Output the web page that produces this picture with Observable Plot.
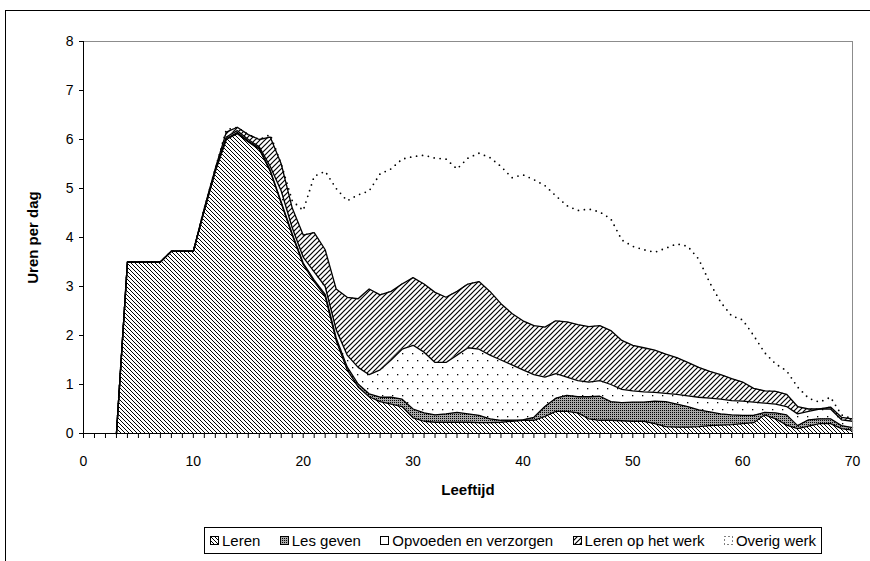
<!DOCTYPE html>
<html>
<head>
<meta charset="utf-8">
<script src="https://cdn.jsdelivr.net/npm/d3@7"></script>
<script src="https://cdn.jsdelivr.net/npm/@observablehq/plot@0.6"></script>
<style>
  html, body { margin: 0; padding: 0; background: #fff; }
  #wrap { position: relative; width: 870px; height: 561px; overflow: hidden; background: #fff;
          font-family: "Liberation Sans", Arial, sans-serif; }
  #frame { position: absolute; left: 5px; top: 10px; width: 900px; height: 600px;
           border-left: 1.5px solid #000; border-top: 1.5px solid #000; box-sizing: border-box; }
  #chart { position: absolute; left: 0; top: 0; }
  #legend { position: absolute; left: 204px; top: 527px; width: 618px; height: 27px; box-sizing: border-box;
            border: 1px solid #000; background: #fff; display: flex; align-items: center; justify-content: space-between;
            padding: 0 5px; font-size: 15px; color: #000; }
  #legend .item { display: flex; align-items: center; white-space: nowrap; }
  #legend svg { margin-right: 2px; }
</style>
</head>
<body>
<svg width="0" height="0" style="position:absolute">
  <defs>
    <pattern id="pLeren" patternUnits="userSpaceOnUse" width="4" height="4">
      <rect width="4" height="4" fill="#fff"/>
      <path d="M-1,-1 L5,5 M-1,3 L1,5 M3,-1 L5,1" stroke="#000" stroke-width="1"/>
    </pattern>
    <pattern id="pLes" patternUnits="userSpaceOnUse" width="2" height="2">
      <rect width="2" height="2" fill="#a8a8a8"/>
      <rect width="1" height="1" fill="#000"/>
    </pattern>
    <pattern id="pOpv" patternUnits="userSpaceOnUse" width="10" height="14">
      <rect width="10" height="14" fill="#fff"/>
      <rect x="2" y="3" width="1.3" height="1.3" fill="#000"/>
      <rect x="7" y="10" width="1.3" height="1.3" fill="#000"/>
    </pattern>
    <pattern id="pWerk" patternUnits="userSpaceOnUse" width="5" height="5">
      <rect width="5" height="5" fill="#fff"/>
      <path d="M-1,6 L6,-1 M-1,1 L1,-1 M4,6 L6,4" stroke="#000" stroke-width="1.2"/>
    </pattern>
  </defs>
</svg>
<div id="wrap">
  <div id="frame"></div>
  <div id="chart"></div>
  <div id="legend"></div>
</div>
<script>
// Categories
const ages = d3.range(0, 71);
const seriesNames = ["Leren", "Les geven", "Opvoeden en verzorgen", "Leren op het werk", "Overig werk"];
const yTicks = [0, 1, 2, 3, 4, 5, 6, 7, 8];
const xTickLabels = [0, 10, 20, 30, 40, 50, 60, 70];

// Series values (hours per day), ages 0..70
const leren = [0,0,0,0,3.5,3.5,3.5,3.5,3.72,3.72,3.72,4.55,5.35,6.0,6.12,5.95,5.8,5.35,4.7,4.05,3.45,3.1,2.8,1.9,1.3,0.95,0.75,0.65,0.6,0.55,0.32,0.25,0.23,0.23,0.23,0.23,0.22,0.22,0.23,0.25,0.27,0.27,0.35,0.45,0.45,0.42,0.3,0.27,0.27,0.26,0.25,0.25,0.2,0.14,0.13,0.13,0.14,0.16,0.17,0.18,0.2,0.22,0.38,0.3,0.17,0.1,0.15,0.2,0.2,0.1,0.07];
const lesGeven = [0,0,0,0,0,0,0,0,0,0,0,0.01,0.01,0.02,0.02,0.02,0.02,0.02,0.02,0.02,0.03,0.03,0.04,0.05,0.06,0.06,0.06,0.09,0.14,0.15,0.18,0.17,0.15,0.17,0.2,0.17,0.15,0.08,0.04,0.02,0.01,0.06,0.2,0.27,0.33,0.33,0.45,0.49,0.38,0.37,0.39,0.39,0.46,0.51,0.47,0.42,0.34,0.28,0.23,0.2,0.17,0.15,0.05,0.12,0.21,0.06,0.13,0.1,0.1,0.06,0.05];
const opvoeden = [0,0,0,0,0,0,0,0,0,0,0,0.02,0.02,0.03,0.04,0.03,0.03,0.08,0.23,0.13,0.12,0.17,0.16,0.17,0.24,0.34,0.39,0.56,0.76,1.02,1.3,1.24,1.07,1.05,1.17,1.35,1.35,1.3,1.23,1.13,1.02,0.87,0.6,0.5,0.37,0.33,0.3,0.32,0.35,0.27,0.23,0.21,0.18,0.17,0.2,0.22,0.26,0.28,0.3,0.29,0.29,0.27,0.19,0.18,0.17,0.24,0.17,0.2,0.2,0.12,0.13];
const lerenWerk = [0,0,0,0,0,0,0,0,0,0,0,0.02,0.03,0.1,0.07,0.1,0.15,0.6,0.55,0.4,0.45,0.8,0.75,0.83,1.18,1.4,1.75,1.53,1.4,1.33,1.38,1.39,1.43,1.33,1.3,1.3,1.38,1.3,1.15,1.05,1.0,1.0,1.02,1.08,1.13,1.14,1.13,1.12,1.1,1.0,0.93,0.9,0.86,0.8,0.75,0.68,0.61,0.55,0.5,0.45,0.39,0.28,0.25,0.26,0.25,0.15,0.05,0,0.04,0.05,0.05];
const overig = [0,0,0,0,0,0,0,0,0,0,0,0,0,0.05,0,0,0,0.05,0,0.15,0.5,1.15,1.6,2.05,1.97,2.12,2.0,2.47,2.5,2.55,2.47,2.63,2.74,2.82,2.5,2.57,2.62,2.73,2.8,2.77,2.98,2.98,2.89,2.55,2.37,2.33,2.4,2.32,2.28,2.05,2.02,2.0,2.0,2.16,2.32,2.37,2.21,1.81,1.48,1.28,1.27,1.08,0.78,0.56,0.48,0.4,0.22,0.14,0.2,0.05,0];

const seriesValues = [leren, lesGeven, opvoeden, lerenWerk, overig];
const patterns = ["url(#pLeren)", "url(#pLes)", "url(#pOpv)", "url(#pWerk)"];

const data = seriesNames.flatMap((name, i) => ages.map((age, j) => ({age, series: name, value: seriesValues[i][j]})));
const filled = seriesNames.slice(0, 4);
const data4 = data.filter(d => filled.includes(d.series));
// outlines only where the areas exist (from age 3 on), so the x axis stays thin
const outline4 = data4.filter(d => d.age >= 3);
const outlineAll = data.filter(d => d.age >= 3);

const plot = Plot.plot({
  width: 870,
  height: 515,
  marginLeft: 83,
  marginRight: 18,
  marginTop: 41,
  marginBottom: 82,
  style: {fontFamily: '"Liberation Sans", Arial, sans-serif', fontSize: "14px", color: "#000", background: "transparent", overflow: "visible"},
  x: {domain: [0, 70]},
  y: {domain: [0, 8]},
  color: {domain: filled, range: patterns},
  marks: [
    Plot.areaY(data4, {x: "age", y: "value", z: "series", fill: "series", order: filled, curve: "linear"}),
    Plot.lineY(outline4, Plot.stackY2({x: "age", y: "value", z: "series", order: filled, stroke: "#000", strokeWidth: 1.3})),
    Plot.lineY(outlineAll, Plot.groupX({y: "sum"}, {x: "age", y: "value", stroke: "#000", strokeWidth: 1.8, strokeLinecap: "round", strokeDasharray: "0,6"})),
    Plot.ruleY([8], {stroke: "#8c8c8c", strokeWidth: 1}),
    Plot.ruleX([70], {stroke: "#8c8c8c", strokeWidth: 1}),
    Plot.ruleX([0], {stroke: "#000", strokeWidth: 1}),
    Plot.ruleY([0], {stroke: "#000", strokeWidth: 1}),
    Plot.axisY({ticks: yTicks, tickSize: 4, tickPadding: 6, label: null, tickFormat: d => String(d)}),
    Plot.axisX({ticks: ages, tickSize: 5, tickPadding: 18, label: null, tickFormat: d => xTickLabels.includes(d) ? String(d) : ""}),
    Plot.text(["Uren per dag"], {frameAnchor: "left", dx: -50, rotate: -90, textAnchor: "middle", fontWeight: "bold", fontSize: 15}),
    Plot.text(["Leeftijd"], {frameAnchor: "bottom", dy: 61, textAnchor: "middle", fontWeight: "bold", fontSize: 15})
  ]
});
document.getElementById("chart").appendChild(plot);

// Legend
const legend = document.getElementById("legend");
const swatchFills = ["url(#pLeren)", "url(#pLes)", "#fff", "url(#pWerk)", "none"];
seriesNames.forEach((name, i) => {
  const item = document.createElement("div");
  item.className = "item";
  const dash = i === 4 ? ' stroke-dasharray="1,3"' : "";
  item.innerHTML = `<svg width="10" height="10"><rect x="0.5" y="0.5" width="8" height="8" fill="${swatchFills[i]}" stroke="#000" stroke-width="1"${dash}/></svg><span>${name}</span>`;
  legend.appendChild(item);
});
</script>
</body>
</html>
